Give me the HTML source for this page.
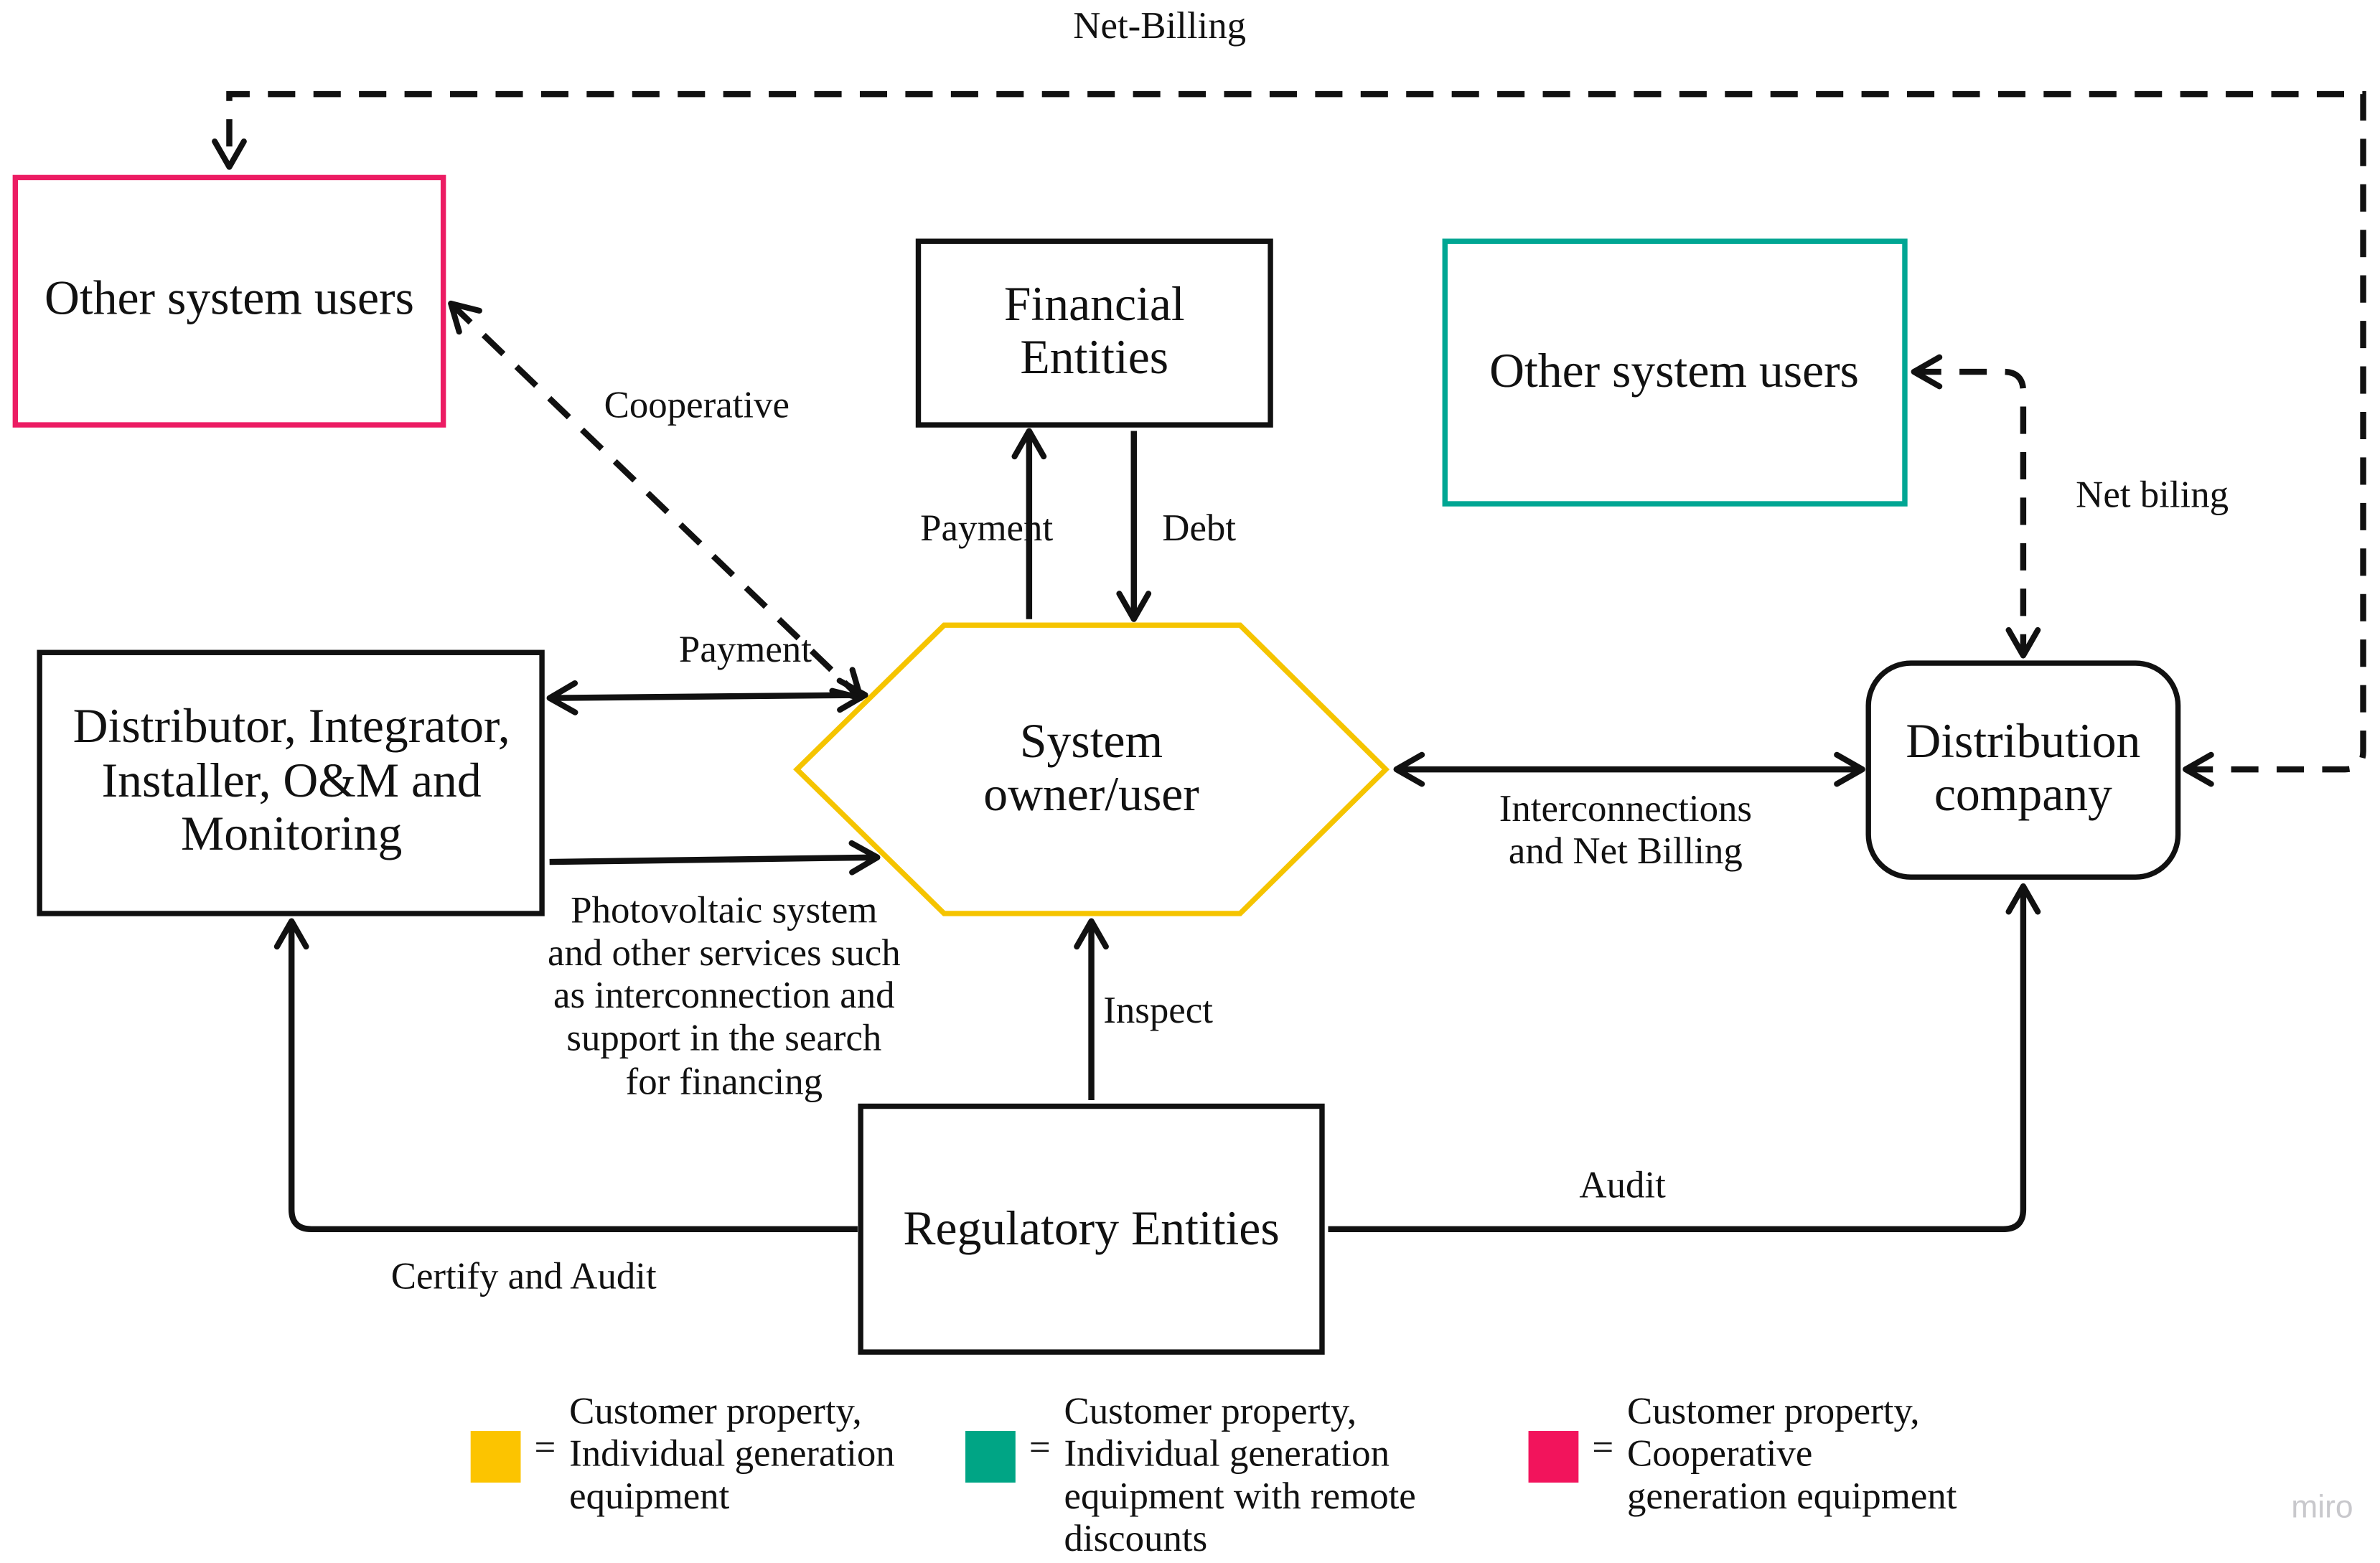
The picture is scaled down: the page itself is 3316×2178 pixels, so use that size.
<!DOCTYPE html>
<html><head><meta charset="utf-8">
<style>
html,body{margin:0;padding:0;background:#fff;}
svg{display:block;}
text{font-family:"Liberation Serif",serif;fill:#111;}
</style></head>
<body>
<svg width="3316" height="2178" viewBox="0 0 1568 1030" xmlns="http://www.w3.org/2000/svg">
<defs>
<marker id="a" viewBox="0 0 20 20" refX="18" refY="10" markerWidth="24" markerHeight="24" markerUnits="userSpaceOnUse" orient="auto-start-reverse">
<path d="M4,2 L18,10 L4,18" fill="none" stroke="#111" stroke-width="3.2" stroke-linecap="round" stroke-linejoin="round"/>
</marker>
</defs>
<rect width="1568" height="1030" fill="#fff"/>
<g fill="none" stroke-width="3.5">
<rect x="10" y="117" width="282" height="163" stroke="#ec1c63"/>
<rect x="605" y="159" width="232" height="121" stroke="#111"/>
<rect x="952" y="159" width="303" height="173" stroke="#00a693"/>
<rect x="26" y="430" width="331" height="172" stroke="#111"/>
<polygon points="525,507 622,412 817,412 913,507 817,602 622,602" stroke="#f5c400"/>
<rect x="1231" y="437" width="204" height="141" rx="28" stroke="#111"/>
<rect x="567" y="729" width="304" height="162" stroke="#111"/>
</g>
<g fill="none" stroke="#111" stroke-width="4">
<path d="M1440,507 L1545,507 Q1557,507 1557,495 L1557,62 L163,62 L151,62 L151,110" stroke-dasharray="18,12" marker-start="url(#a)" marker-end="url(#a)"/>
<line x1="297" y1="200" x2="567" y2="460" stroke-dasharray="18,12" marker-start="url(#a)" marker-end="url(#a)"/>
<line x1="678" y1="408" x2="678" y2="284" marker-end="url(#a)"/>
<line x1="747" y1="284" x2="747" y2="408" marker-end="url(#a)"/>
<line x1="362" y1="460" x2="570" y2="458" marker-start="url(#a)" marker-end="url(#a)"/>
<line x1="362" y1="568" x2="578" y2="565" marker-end="url(#a)"/>
<line x1="920" y1="507" x2="1227" y2="507" marker-start="url(#a)" marker-end="url(#a)"/>
<path d="M1261,245 L1320,245 Q1333,245 1333,258 L1333,432" stroke-dasharray="18,12" marker-start="url(#a)" marker-end="url(#a)"/>
<line x1="719" y1="725" x2="719" y2="607" marker-end="url(#a)"/>
<path d="M565,810 L205,810 Q192,810 192,797 L192,607" marker-end="url(#a)"/>
<path d="M875,810 L1320,810 Q1333,810 1333,797 L1333,584" marker-end="url(#a)"/>
</g>
<g font-size="32" text-anchor="middle">
<text x="151" y="207">Other system users</text>
<text x="721" y="211">Financial</text>
<text x="721" y="246">Entities</text>
<text x="1103" y="255">Other system users</text>
<text x="192" y="489">Distributor, Integrator,</text>
<text x="192" y="525">Installer, O&amp;M and</text>
<text x="192" y="560">Monitoring</text>
<text x="719" y="499">System</text>
<text x="719" y="534">owner/user</text>
<text x="1333" y="499">Distribution</text>
<text x="1333" y="534">company</text>
<text x="719" y="820">Regulatory Entities</text>
</g>
<g font-size="25" text-anchor="middle">
<text x="764" y="25">Net-Billing</text>
<text x="459" y="275">Cooperative</text>
<text x="650" y="356">Payment</text>
<text x="790" y="356">Debt</text>
<text x="491" y="436">Payment</text>
<text x="477" y="608">Photovoltaic system</text>
<text x="477" y="636">and other services such</text>
<text x="477" y="664">as interconnection and</text>
<text x="477" y="692">support in the search</text>
<text x="477" y="721">for financing</text>
<text x="1071" y="541">Interconnections</text>
<text x="1071" y="569">and Net Billing</text>
<text x="1418" y="334">Net biling</text>
<text x="763" y="674">Inspect</text>
<text x="345" y="849">Certify and Audit</text>
<text x="1069" y="789">Audit</text>
</g>
<rect x="310" y="943" width="33" height="34" fill="#fcc400"/>
<rect x="636" y="943" width="33" height="34" fill="#00a585"/>
<rect x="1007" y="943" width="33" height="34" fill="#f2145c"/>
<g font-size="25">
<text x="352" y="962">=</text>
<text x="375" y="938">Customer property,</text>
<text x="375" y="966">Individual generation</text>
<text x="375" y="994">equipment</text>
<text x="678" y="962">=</text>
<text x="701" y="938">Customer property,</text>
<text x="701" y="966">Individual generation</text>
<text x="701" y="994">equipment with remote</text>
<text x="701" y="1022">discounts</text>
<text x="1049" y="962">=</text>
<text x="1072" y="938">Customer property,</text>
<text x="1072" y="966">Cooperative</text>
<text x="1072" y="994">generation equipment</text>
</g>
<text x="1530" y="1000" font-size="21" text-anchor="middle" style="font-family:'Liberation Sans',sans-serif;fill:#c8c8cc">miro</text>
</svg>
</body></html>
